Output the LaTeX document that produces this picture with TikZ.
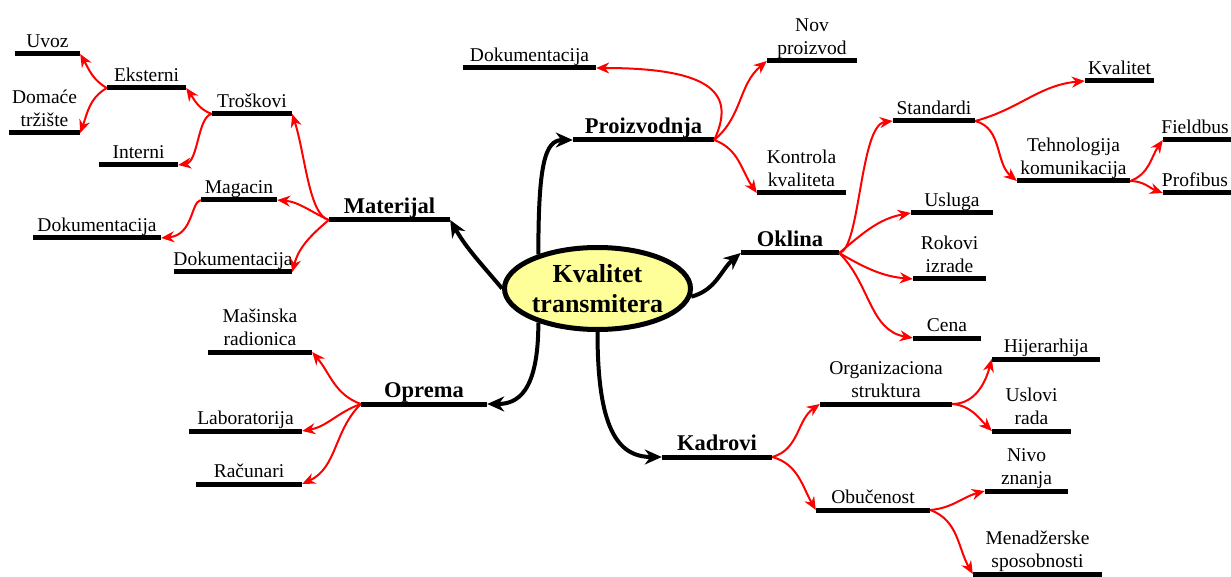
\documentclass[tikz,border=0pt]{standalone}
\usepackage{fontspec}
\setmainfont{Liberation Serif}
\usetikzlibrary{arrows.meta,shapes.geometric}
\definecolor{ellfill}{RGB}{255,255,153}
\tikzset{
  ul/.style={rectangle, fill=black, inner sep=0pt, minimum height=5pt, label distance=2.5pt},
  lb/.style={font=\fontsize{19.5pt}{22.5pt}\selectfont, inner sep=0pt, text depth=4pt, align=center},
  lbb/.style={font=\bfseries\fontsize{22.5pt}{26pt}\selectfont, inner sep=0pt, text depth=4pt, align=center},
  bar/.style={line width=4pt, -{Stealth[length=17pt,width=15pt]}},
  rar/.style={line width=2pt, red, -{Stealth[length=13pt,width=11pt]}},
}
\begin{document}
\begin{tikzpicture}[x=1pt,y=-1pt]
\useasboundingbox (0,0) rectangle (1231,577);
\clip (0,0) rectangle (1231,577);
% centre
\node[ellipse, draw, line width=5pt, fill=ellfill, minimum width=186pt, minimum height=82pt, inner sep=0pt,
      font=\bfseries\fontsize{26pt}{30pt}\selectfont, align=center] (ell) at (597.5,288.5) {Kvalitet\\transmitera};
% main branches
\node[ul, minimum width=121pt, label={[lbb]above:Materijal}] (mat) at (389.5,220) {};
\node[ul, minimum width=141pt, label={[lbb]above:Proizvodnja}] (pro) at (643.5,140) {};
\node[ul, minimum width=98pt,  label={[lbb]above:Oklina}] (okl) at (790,253) {};
\node[ul, minimum width=126pt, label={[lbb]above:Oprema}] (opr) at (424,404) {};
\node[ul, minimum width=110pt, label={[lbb]above:Kadrovi}] (kad) at (717,457) {};
% Materijal
\node[ul, minimum width=80pt,  label={[lb]above:Troškovi}] (tro) at (252,114) {};
\node[ul, minimum width=79pt,  label={[lb]above:Eksterni}] (eks) at (146.5,88) {};
\node[ul, minimum width=79pt,  label={[lb]above:Interni}] (int) at (138.5,165) {};
\node[ul, minimum width=65pt,  label={[lb]above:Uvoz}] (uvo) at (47.5,54) {};
\node[ul, minimum width=71pt,  label={[lb]above:{Domaće\\tržište}}] (dom) at (44.5,133) {};
\node[ul, minimum width=76pt,  label={[lb]above:Magacin}] (mag) at (239,200) {};
\node[ul, minimum width=128pt, label={[lb]above:Dokumentacija}] (dka) at (97,238) {};
\node[ul, minimum width=118pt, label={[lb]above:Dokumentacija}] (dkb) at (233,272) {};
% Proizvodnja
\node[ul, minimum width=133pt, label={[lb]above:Dokumentacija}] (dkc) at (529.5,68) {};
\node[ul, minimum width=90pt,  label={[lb]above:{Nov\\proizvod}}] (nov) at (812,61) {};
\node[ul, minimum width=89pt,  label={[lb]above:{Kontrola\\kvaliteta}}] (kon) at (801.5,193) {};
% Oklina
\node[ul, minimum width=82pt,  label={[lb]above:Standardi}] (sta) at (934,121) {};
\node[ul, minimum width=69pt,  label={[lb]above:Kvalitet}] (kva) at (1119.5,81) {};
\node[ul, minimum width=113pt, label={[lb]above:{Tehnologija\\komunikacija}}] (teh) at (1073.5,181) {};
\node[ul, minimum width=82pt,  label={[lb, xshift=-9pt]above:Fieldbus}] (fie) at (1204,140) {};
\node[ul, minimum width=82pt,  label={[lb, xshift=-9pt]above:Profibus}] (prf) at (1204,193) {};
\node[ul, minimum width=82pt,  label={[lb]above:Usluga}] (usl) at (952,213) {};
\node[ul, minimum width=73pt,  label={[lb]above:{Rokovi\\izrade}}] (rok) at (949.5,279) {};
\node[ul, minimum width=68pt,  label={[lb]above:Cena}] (cen) at (947,338) {};
% Kadrovi
\node[ul, minimum width=132pt, label={[lb]above:{Organizaciona\\struktura}}] (org) at (886,404) {};
\node[ul, minimum width=108pt, label={[lb]above:Hijerarhija}] (hij) at (1046,359) {};
\node[ul, minimum width=79pt,  label={[lb]above:{Uslovi\\rada}}] (usr) at (1031.5,431) {};
\node[ul, minimum width=114pt, label={[lb]above:Obučenost}] (obu) at (873,510) {};
\node[ul, minimum width=83pt,  label={[lb]above:{Nivo\\znanja}}] (niv) at (1026.5,491) {};
\node[ul, minimum width=129pt, label={[lb]above:{Menadžerske\\sposobnosti}}] (men) at (1037.5,574) {};
% Oprema
\node[ul, minimum width=104pt, label={[lb]above:{Mašinska\\radionica}}] (mas) at (260,352) {};
\node[ul, minimum width=113pt, label={[lb]above:Laboratorija}] (lab) at (245.5,431) {};
\node[ul, minimum width=106pt, label={[lb]above:Računari}] (rac) at (249,484) {};
% black connectors
\draw[bar] (ell.west) to[out=130,in=-60] (mat.east);
\draw[bar] (ell.150) .. controls +(0,-90) and +(-28,0) .. (pro.west);
\draw[bar] (ell.-5) to[out=15,in=220] (okl.west);
\draw[bar] (ell.210) .. controls +(0,70) and +(30,0) .. (opr.east);
\draw[bar] (ell.south) .. controls +(0,95) and +(-45,0) .. (kad.west);
% red connectors: Materijal
\draw[rar] (mat.west) .. controls +(-20,-5) and +(13,40) .. (tro.east);
\draw[rar] (mat.west) to[out=155,in=-5] (mag.east);
\draw[rar] (mat.west) to[out=220,in=75] (dkb.east);
\draw[rar] (tro.west) to[out=160,in=-55] (eks.east);
\draw[rar] (tro.west) .. controls +(-14,2) and +(20,-3) .. (int.east);
\draw[rar] (eks.west) to[out=150,in=-60] (uvo.east);
\draw[rar] (eks.west) to[out=210,in=70] (dom.east);
\draw[rar] (mag.west) .. controls +(-10,2) and +(32,-3) .. (dka.east);
% Proizvodnja
\draw[rar] (pro.east) .. controls +(21,-45) and +(119,0) .. (dkc.east);
\draw[rar] (pro.east) to[out=40,in=220] (nov.west);
\draw[rar] (pro.east) to[out=-20,in=125] (kon.west);
% Oklina
\draw[rar] (okl.east) .. controls +(21,-3) and +(-33,4) .. (sta.west);
\draw[rar] (okl.east) to[out=40,in=190] (usl.west);
\draw[rar] (okl.east) to[out=-30,in=175] (rok.west);
\draw[rar] (okl.east) to[out=-45,in=170] (cen.west);
\draw[rar] (sta.east) to[out=15,in=185] (kva.west);
\draw[rar] (sta.east) to[out=-15,in=140] (teh.west);
\draw[rar] (teh.east) to[out=20,in=235] (fie.west);
\draw[rar] (teh.east) to[out=0,in=160] (prf.west);
% Kadrovi
\draw[rar] (kad.east) to[out=15,in=215] (org.west);
\draw[rar] (kad.east) to[out=-15,in=120] (obu.west);
\draw[rar] (org.east) to[out=0,in=255] (hij.west);
\draw[rar] (org.east) to[out=-5,in=135] (usr.west);
\draw[rar] (obu.east) to[out=5,in=195] (niv.west);
\draw[rar] (obu.east) to[out=-20,in=120] (men.west);
% Oprema
\draw[rar] (opr.west) to[out=160,in=-50] (mas.east);
\draw[rar] (opr.west) to[out=200,in=10] (lab.east);
\draw[rar] (opr.west) to[out=225,in=25] (rac.east);
\end{tikzpicture}
\end{document}
